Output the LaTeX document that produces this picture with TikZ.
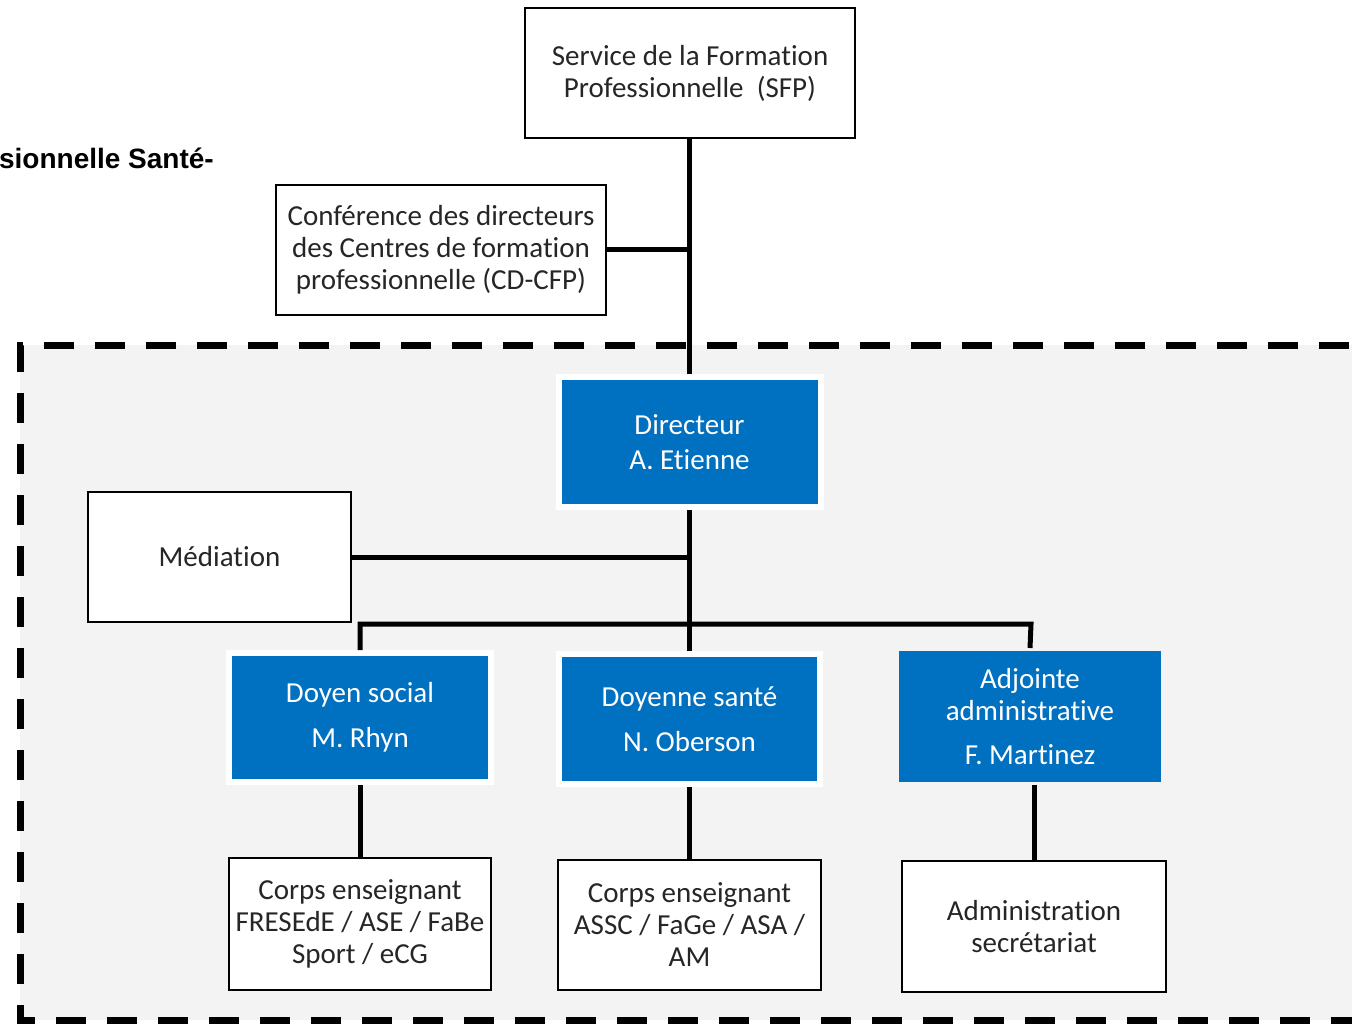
\documentclass[tikz,border=0pt]{standalone}
\usepackage{fontspec}
\setmainfont{Carlito}[Ligatures={NoCommon}]
\newfontfamily\titlefont{Liberation Sans}
\definecolor{bluebox}{HTML}{0070C0}
\definecolor{graybg}{HTML}{F3F3F3}
\begin{document}
\begin{tikzpicture}[x=1pt,y=-1pt,
  wbox/.style={draw=black, line width=2.5, fill=white, align=center, inner sep=0,
    font=\fontsize{29}{32}\selectfont, text=black!85},
  bbox/.style={draw=white, line width=6, fill=bluebox, align=center, inner sep=0,
    font=\fontsize{29}{35}\selectfont, text=white},
  conn/.style={line width=5, draw=black},
  frame/.style={draw=black, line width=7, dash pattern=on 30pt off 21pt, fill=graybg}
]
\useasboundingbox (0,0) rectangle (1352,1024);
\clip (0,0) rectangle (1352,1024);
\fill[white] (0,0) rectangle (1352,1024);
% dashed frame
\draw[frame] (1400,345) -- (20,345) -- (20,1020) -- (1400,1020);
% title fragment
\node[anchor=east, inner sep=0, font=\titlefont\bfseries\fontsize{28}{30}\selectfont] (title) at (214,158) {sionnelle Santé-};
% top boxes
\node[wbox, minimum width=330, minimum height=130] (sfp) at (690,73) {Service de la Formation\\Professionnelle\ \ (SFP)};
\node[wbox, minimum width=330, minimum height=130] (conf) at (441,250) {Conférence des directeurs\\des Centres de formation\\professionnelle (CD-CFP)};
% directeur
\node[bbox, minimum width=262, minimum height=130] (dir) at (689.5,442) {Directeur\\A. Etienne};
\node[wbox, minimum width=263, minimum height=130] (med) at (219.5,557) {Médiation};
% second level
\node[bbox, minimum width=262, minimum height=129] (ds) at (360,717.5) {Doyen social\\[10pt]M. Rhyn};
\node[bbox, minimum width=261, minimum height=130] (ns) at (689.5,719) {Doyenne santé\\[10pt]N. Oberson};
\node[bbox, draw=none, minimum width=262, minimum height=131] (as) at (1030,716.5) {Adjointe\\[-3pt]administrative\\[9pt]F. Martinez};
% bottom
\node[wbox, minimum width=262, minimum height=132] (c1) at (360,924) {Corps enseignant\\FRESEdE / ASE / FaBe\\Sport / eCG};
\node[wbox, minimum width=263, minimum height=130] (c2) at (689.5,925) {Corps enseignant\\ASSC / FaGe / ASA /\\AM};
\node[wbox, minimum width=264, minimum height=131] (adm) at (1034,926.5) {Administration\\secrétariat};
% connectors
\coordinate (barR) at (1031,624);
\draw[conn] (sfp.south -| dir.north) -- (dir.north);
\draw[conn] (conf.east) -- (conf.east -| dir.north);
\draw[conn] (dir.south) -- (ns.north);
\draw[conn] (med.east) -- (med.east -| dir.south);
\draw[conn] (ds.north) |- (barR) -- (as.north);
\draw[conn] (ds.south) -- (c1.north);
\draw[conn] (ns.south) -- (c2.north);
\draw[conn] (as.south -| adm.north) -- (adm.north);
\end{tikzpicture}
\end{document}
